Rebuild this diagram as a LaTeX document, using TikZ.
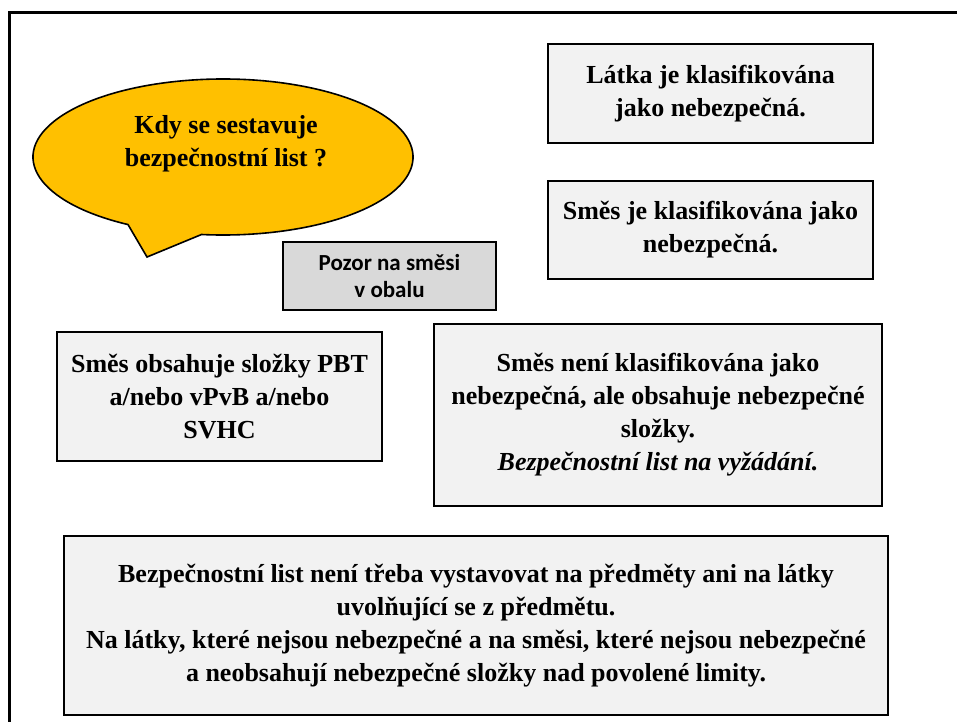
\documentclass[tikz,border=0pt]{standalone}
\usepackage{fontspec}
\setmainfont{Liberation Serif}
\newfontfamily\calib{Carlito}
\definecolor{boxgray}{HTML}{F2F2F2}
\definecolor{pozorgray}{HTML}{D9D9D9}
\definecolor{bubbleyellow}{HTML}{FFC000}
\tikzset{
	infobox/.style={draw, line width=2pt, fill=boxgray, align=center, inner sep=0pt,
		font=\bfseries\fontsize{26}{33}\selectfont},
	notebox/.style={draw, line width=1.6pt, fill=pozorgray, align=center, inner sep=0pt,
		font=\calib\bfseries\fontsize{23}{27}\selectfont},
	bubble/.style={draw, line width=1.6pt, fill=bubbleyellow}
}
\begin{document}
\begin{tikzpicture}[x=1pt, y=-1pt]
		\useasboundingbox (0,0) rectangle (957,721);
		\clip (0,0) rectangle (957,721);
		\draw [line width=3pt] (9,12) rectangle (990,760);
		
		% bublina
		\coordinate (bubc) at (223,157);
		\coordinate (tip) at (147,257);
		\draw [bubble] (bubc) ++(120:190 and 78) arc [start angle=120, end angle=456.5, x radius=190, y radius=78] -- (tip) -- cycle;
		\node [align=center, font=\bfseries\fontsize{26}{33}\selectfont] (otazka) at (226,144) {Kdy se sestavuje\\bezpečnostní list ?};
		
		\node [infobox, minimum width=325, minimum height=99] (latka) at (710.5,93.5) {Látka je klasifikována\\jako nebezpečná.};
		\node [infobox, minimum width=325, minimum height=98] (smes) at (710.5,230) {Směs je klasifikována jako\\nebezpečná.};
		\node [notebox, minimum width=213, minimum height=68] (pozor) at (389.5,276) {Pozor na směsi\\v obalu};
		\node [infobox, minimum width=325, minimum height=129] (pbt) at (219.5,396.5) {Směs obsahuje složky PBT\\a/nebo vPvB a/nebo\\SVHC};
		\node [infobox, minimum width=448, minimum height=182] (neni) at (658,415) {Směs není klasifikována jako\\nebezpečná, ale obsahuje nebezpečné\\složky.\\\textit{Bezpečnostní list na vyžádání.}};
		\node [infobox, minimum width=824, minimum height=179] (nelze) at (476,625.5) {Bezpečnostní list není třeba vystavovat na předměty ani na látky\\uvolňující se z předmětu.\\Na látky, které nejsou nebezpečné a na směsi, které nejsou nebezpečné\\a neobsahují nebezpečné složky nad povolené limity.};
		\end{tikzpicture}
\end{document}
